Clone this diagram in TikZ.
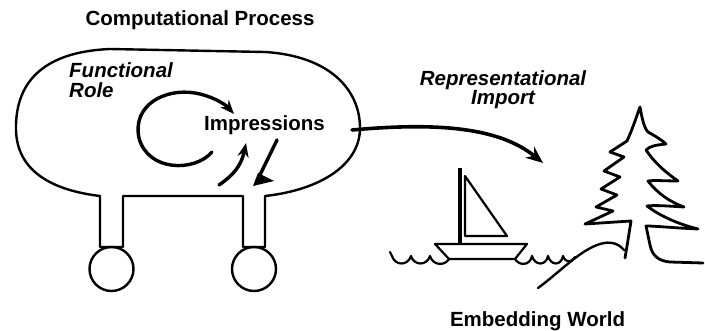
\documentclass[tikz,border=0pt]{standalone}
\usepackage{fontspec}
\setmainfont{Liberation Sans}
\usetikzlibrary{arrows.meta}
\begin{document}
\begin{tikzpicture}[x=1pt,y=-1pt,line join=round,line cap=round,
  lbl/.style={font=\fontsize{20.5}{20}\selectfont\bfseries,inner sep=0pt,align=center},
  ital/.style={font=\fontsize{20.5}{20}\selectfont\bfseries\itshape,inner sep=0pt,align=center},
  outline/.style={line width=2.4pt},
  bigarrow/.style={line width=3.6pt,-{Stealth[length=17pt,width=14pt]}},
  smallarrow/.style={line width=3.4pt,-{Stealth[length=14pt,width=11pt]}},
  pin/.style={circle,draw,line width=2.4pt,minimum size=44pt,inner sep=0pt},
]
\useasboundingbox (0,0) rectangle (705,331);

% ---- texts
\node[lbl,anchor=base] (title) at (200,26) {Computational Process};
\node[ital,anchor=base west,align=left] (role) at (69,98) {Functional\\Role};
\node[lbl,anchor=base] (impr) at (264.5,131) {Impressions};
\node[ital,anchor=base,font=\fontsize{20.5}{19}\selectfont\bfseries\itshape] (repr) at (503,105) {Representational\\Import};
\node[lbl,anchor=base] (world) at (537.5,327) {Embedding World};

% ---- computational process blob with legs
\draw[outline] (100,247) -- (100,196)
  .. controls (50,190) and (17,170) .. (16,130)
  .. controls (15,85) and (40,52) .. (110,49)
  -- (265,52)
  .. controls (330,56) and (360,90) .. (360,128)
  .. controls (360,165) and (320,190) .. (265,196)
  -- (265,247) -- (243,247) -- (243,196) -- (123,196) -- (123,247) -- cycle;
\node[pin] (pinA) at (111.5,269) {};
\node[pin] (pinB) at (254,269) {};

% ---- arrows inside
\coordinate (loopstart) at (212,152);
\coordinate (loopend) at (234,114);
\draw[smallarrow] (loopstart) .. controls (195,172) and (148,172) .. (139,138)
  .. controls (132,105) and (165,88) .. (195,93)
  .. controls (212,96) and (225,104) .. (loopend);
\coordinate (upstart) at (219,185);
\coordinate (upend) at (246,143);
\draw[smallarrow] (upstart) .. controls (232,176) and (241,167) .. (upend);
\coordinate (downstart) at (277,140);
\coordinate (downend) at (257,181);
\draw[line width=3.4pt] (downstart) -- (downend);
\fill (253,186) -- (258,173) -- (274,181) -- cycle;

% ---- representational import arrow
\coordinate (out) at (352,130);
\coordinate (target) at (543,163);
\draw[bigarrow] (out) .. controls (440,122) and (500,128) .. (target);

% ---- boat
\draw[line width=4.5pt,line cap=butt] (460,168) -- (460,244);
\draw[line width=2.2pt] (465,176) -- (507,236) -- (465,236) -- cycle;
\draw[line width=2.2pt] (435,244) -- (527,244) -- (515,259) -- (449,259) -- cycle;

% ---- waves
\draw[line width=2.2pt] (390,252) -- (392,256)
  .. controls (395,266) and (408,266) .. (411,256)
  .. controls (414,266) and (427,266) .. (430,256)
  .. controls (433,266) and (445,266) .. (449,259);
\draw[line width=2.2pt] (515,259)
  .. controls (519,266) and (530,266) .. (532,256)
  .. controls (535,266) and (546,266) .. (548,256)
  .. controls (551,266) and (561,266) .. (563,256)
  .. controls (566,264) and (572,262) .. (575,257);

% ---- hill
\draw[line width=2.4pt] (538,288) .. controls (560,272) and (580,250) .. (600,244)
  .. controls (610,241) and (618,243) .. (624,250);

% ---- tree
\draw[line width=2.8pt] (625,258) -- (628,240) -- (631,221) -- (585,224)
  -- (613,211) -- (596,207) -- (617,195) -- (601,189) -- (620,177)
  -- (604,171) -- (624,157) -- (610,152) -- (627,141)
  .. controls (633,128) and (637,115) .. (640,107)
  .. controls (642,118) and (644,128) .. (648,132)
  .. controls (655,136) and (662,140) .. (666,144)
  .. controls (656,145) and (650,146) .. (646,150)
  .. controls (654,162) and (665,172) .. (678,181)
  .. controls (666,181) and (654,180) .. (648,181)
  .. controls (657,193) and (670,202) .. (684,207)
  .. controls (668,206) and (654,205) .. (647,206)
  .. controls (660,216) and (678,224) .. (698,229)
  .. controls (675,228) and (656,226) .. (646,226)
  -- (650,245) .. controls (652,255) and (658,261) .. (670,262)
  -- (703,263);
\end{tikzpicture}
\end{document}
